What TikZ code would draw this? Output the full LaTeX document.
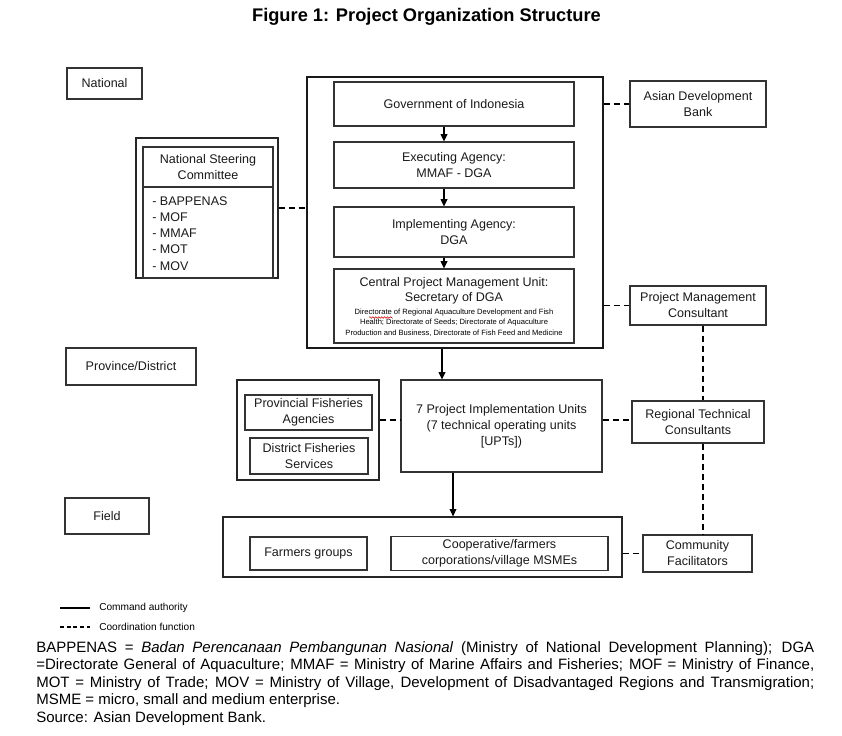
\documentclass[tikz,border=0pt]{standalone}
\usepackage{fontspec}
\setmainfont{Liberation Sans}
\usetikzlibrary{arrows.meta,decorations.pathmorphing}
\begin{document}
\begin{tikzpicture}[x=0.75pt,y=-0.75pt,
 txt/.style={font=\fontsize{9.4}{12}\selectfont, align=center, text=black!90},
 box/.style={draw=black!80, line width=0.8pt, inner sep=0pt, txt},
 outerbox/.style={draw=black!90, line width=1.1pt, inner sep=0pt},
 grpbox/.style={draw=black!85, line width=0.9pt, inner sep=0pt},
 cmd/.style={draw=black, line width=1.1pt, -{Triangle[length=5.5pt,width=5pt]}},
 coordline/.style={draw=black, line width=1.1pt, dash pattern=on 4.5pt off 3pt},
 small/.style={font=\fontsize{5.7}{7.9}\selectfont, align=center, inner sep=0pt},
 legend/.style={font=\fontsize{7.6}{9}\selectfont, anchor=west, inner sep=0pt},
 squiggle/.style={draw=red!85!black, line width=0.4pt, decorate, decoration={snake, amplitude=0.6pt, segment length=2.2pt}},
]
\useasboundingbox (0,0) rectangle (842,735);

% title
\node[font=\bfseries\fontsize{13.7}{16}\selectfont] (title) at (426.5,17) {Figure 1: Project Organization Structure};

% level labels
\node[box, minimum width=56.25pt, minimum height=23.25pt] (national) at (104.5,83.5) {National};
\node[box, minimum width=97.5pt, minimum height=27.75pt] (province) at (131,366.5) {Province/District};
\node[box, minimum width=63pt, minimum height=27pt] (field) at (107,516) {Field};

% big national box
\node[outerbox, minimum width=222pt, minimum height=203.25pt] (big) at (455,212.5) {};
\node[box, minimum width=180pt, minimum height=33pt] (gov) at (454,104) {Government of Indonesia};
\node[box, minimum width=180pt, minimum height=34.5pt] (exec) at (454,165) {Executing Agency:\\MMAF - DGA};
\node[box, minimum width=180pt, minimum height=37.5pt] (impl) at (454,232) {Implementing Agency:\\DGA};
\node[box, minimum width=180pt, minimum height=55.5pt] (cpmu) at (454,306) {};
\node[txt, inner sep=0pt, font=\fontsize{9.4}{11.3}\selectfont] (cpmut) at (454,291) {Central Project Management Unit:\\Secretary of DGA};
\node[small] (cpmus) at (454,322.5) {Directorate of Regional Aquaculture Development and Fish\\Health; Directorate of Seeds; Directorate of Aquaculture\\Production and Business, Directorate of Fish Feed and Medicine};
\coordinate (sq1) at (369,317.5);
\coordinate (sq2) at (392,317.5);
\draw[squiggle] (sq1) -- (sq2);

% NSC
\node[grpbox, minimum width=106.5pt, minimum height=105pt] (nscout) at (207,208) {};
\node[box, minimum width=97.5pt, minimum height=30pt] (nschead) at (208,167) {National Steering\\Committee};
\node[box, minimum width=97.5pt, minimum height=68.25pt] (nsclist) at (208,232.5) {};
\node[txt, align=left, anchor=north west, inner sep=0pt, font=\fontsize{9.4}{12.2}\selectfont] (nsctext) at (152,196) {- BAPPENAS\\- MOF\\- MMAF\\- MOT\\- MOV};

% right side
\node[box, minimum width=102pt, minimum height=34.5pt] (adb) at (698,104) {Asian Development\\Bank};
\node[box, minimum width=102pt, minimum height=29.25pt] (pmc) at (698,305.5) {Project Management\\Consultant};
\node[box, minimum width=99pt, minimum height=31.5pt] (rtc) at (698,422) {Regional Technical\\Consultants};
\node[box, minimum width=81.75pt, minimum height=27.75pt] (cf) at (697.5,553.5) {Community\\Facilitators};

% province level
\node[grpbox, minimum width=106.5pt, minimum height=75pt] (lgroup) at (308,430) {};
\node[box, minimum width=95.25pt, minimum height=26.25pt] (prov) at (308.5,412.5) {Provincial Fisheries\\Agencies};
\node[box, minimum width=88.5pt, minimum height=27pt] (dist) at (309,456) {District Fisheries\\Services};
\node[box, minimum width=150.75pt, minimum height=69pt] (piu) at (501.5,426) {7 Project Implementation Units\\(7 technical operating units\\{[UPTs])}};

% field level
\node[grpbox, minimum width=299.25pt, minimum height=45pt] (fgroup) at (422.5,547) {};
\node[box, minimum width=87.75pt, minimum height=24.75pt] (farm) at (308.5,553.5) {Farmers groups};
\node[box, minimum width=162.75pt, minimum height=25.5pt] (coop) at (499.5,553.5) {Cooperative/farmers\\corporations/village MSMEs};

% helper coordinates
\coordinate (ax) at (444,0);
\coordinate (bx) at (442,0);
\coordinate (cx) at (453,0);
\coordinate (vx) at (703,0);
\coordinate (ly) at (0,420);

% command arrows
\draw[cmd] (gov.south -| ax) -- (exec.north -| ax);
\draw[cmd] (exec.south -| ax) -- (impl.north -| ax);
\draw[cmd] (impl.south -| ax) -- (cpmu.north -| ax);
\draw[cmd] (big.south -| bx) -- (piu.north -| bx);
\draw[cmd] (piu.south -| cx) -- (fgroup.north -| cx);

% coordination lines
\draw[coordline] (big.east |- adb.west) -- (adb.west);
\draw[coordline] (nscout.east) -- (big.west |- nscout.east);
\draw[coordline] (big.east |- pmc.west) -- (pmc.west);
\draw[coordline] (lgroup.east |- ly) -- (piu.west |- ly);
\draw[coordline] (piu.east |- ly) -- (rtc.west |- ly);
\draw[coordline] (fgroup.east |- cf.west) -- (cf.west);
\draw[coordline] (pmc.south -| vx) -- (rtc.north -| vx);
\draw[coordline] (rtc.south -| vx) -- (cf.north -| vx);

% legend
\coordinate (l1a) at (60,608);
\coordinate (l1b) at (90,608);
\coordinate (l2a) at (60,627);
\coordinate (l2b) at (90,627);
\draw[black, line width=0.8pt] (l1a) -- (l1b);
\draw[black, line width=0.8pt, dash pattern=on 3pt off 2pt] (l2a) -- (l2b);
\node[legend] (leg1) at (99,608) {Command authority};
\node[legend] (leg2) at (99,627) {Coordination function};

% notes
\node[anchor=north west, inner sep=0pt, text width=583.5pt, align=justify,
      font=\fontsize{11.25}{13.1}\selectfont] (notes) at (36,641)
{\hyphenpenalty=10000 BAPPENAS = \textit{Badan Perencanaan Pembangunan Nasional} (Ministry of National Development Planning); DGA\linebreak
=Directorate General of Aquaculture; MMAF = Ministry of Marine Affairs and Fisheries; MOF = Ministry of Finance,\linebreak
MOT = Ministry of Trade; MOV = Ministry of Village, Development of Disadvantaged Regions and Transmigration;\linebreak
MSME = micro, small and medium enterprise.\\
Source: Asian Development Bank.};
\end{tikzpicture}
\end{document}
